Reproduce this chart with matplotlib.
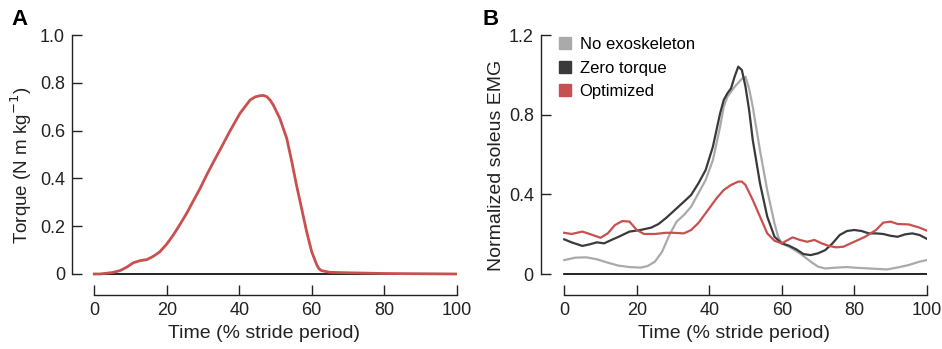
import numpy as np
import matplotlib
matplotlib.use('Agg')
import matplotlib.pyplot as plt

plt.rcParams['font.family'] = ['Liberation Sans', 'DejaVu Sans']

# Panel A: exoskeleton torque
torque_time = [0, 1.6, 5, 7.1, 8.9, 10.8, 12.7, 14.5, 16.3, 18.1, 20, 21.8, 23.6,
               25.5, 27.3, 29.2, 31, 32.8, 35, 37.4, 40.2, 43.0, 44.4, 45.7, 46.7,
               47.6, 48.5, 49.4, 51.2, 53.1, 54.5, 55.8, 57.2, 58.6, 60.0, 61.4,
               62.0, 62.7, 65, 70, 80, 100]
torque_vals = [0, 0, 0.006, 0.014, 0.028, 0.047, 0.056, 0.06, 0.074, 0.093, 0.125,
               0.163, 0.206, 0.254, 0.305, 0.358, 0.414, 0.466, 0.528, 0.597, 0.672,
               0.728, 0.741, 0.746, 0.747, 0.742, 0.728, 0.707, 0.651, 0.568, 0.47,
               0.372, 0.275, 0.177, 0.093, 0.038, 0.022, 0.014, 0.007, 0.005,
               0.002, 0.0]

# Panel B: soleus EMG
no_exo_time = [0, 3, 6, 9, 12, 15, 18, 21, 23, 25, 27, 29, 31, 33, 35, 37, 39, 41,
               43, 44, 45, 47, 49, 50, 51, 52, 54, 56, 58, 59, 60, 62, 65, 68, 70,
               72, 75, 78, 80, 85, 89, 92, 95, 98, 100]
no_exo_vals = [0.07, 0.082, 0.084, 0.074, 0.057, 0.042, 0.035, 0.032, 0.04, 0.062,
               0.112, 0.196, 0.263, 0.296, 0.338, 0.405, 0.472, 0.572, 0.74, 0.84,
               0.89, 0.94, 0.98, 0.99, 0.93, 0.84, 0.62, 0.42, 0.254, 0.187, 0.154,
               0.137, 0.104, 0.062, 0.037, 0.028, 0.032, 0.035, 0.032, 0.027, 0.023,
               0.033, 0.045, 0.062, 0.07]

zero_time = [0, 2, 5, 7, 9, 11, 13, 15, 18, 21, 24, 26, 28, 30, 33, 35, 37, 39, 41,
             43, 44, 45, 46, 47, 48, 49, 50, 51, 52, 54, 56, 58, 60, 62, 64, 66, 68,
             70, 72, 74, 76, 78, 80, 82, 84, 86, 88, 90, 92, 94, 96, 98, 100]
zero_vals = [0.174, 0.159, 0.141, 0.149, 0.159, 0.154, 0.171, 0.187, 0.213, 0.221,
             0.233, 0.251, 0.28, 0.313, 0.363, 0.397, 0.455, 0.522, 0.639, 0.807,
             0.874, 0.907, 0.932, 0.991, 1.041, 1.024, 0.94, 0.823, 0.673, 0.455,
             0.288, 0.187, 0.154, 0.142, 0.124, 0.10, 0.095, 0.104, 0.12, 0.154,
             0.196, 0.216, 0.221, 0.216, 0.204, 0.204, 0.201, 0.192, 0.187, 0.199,
             0.204, 0.196, 0.177]

opt_time = [0, 2, 5, 7, 10, 12, 14, 16, 18, 20, 22, 25, 28, 30, 33, 35, 37, 40, 42,
            44, 46, 48, 49, 50, 52, 54, 56, 58, 60, 62, 63, 65, 67, 69, 71, 73, 75,
            77, 80, 83, 86, 88, 90, 92, 95, 98, 100]
opt_vals = [0.207, 0.201, 0.213, 0.201, 0.182, 0.204, 0.246, 0.266, 0.263, 0.221,
            0.201, 0.201, 0.207, 0.207, 0.204, 0.221, 0.256, 0.33, 0.38, 0.422,
            0.447, 0.464, 0.464, 0.447, 0.372, 0.288, 0.204, 0.167, 0.154, 0.174,
            0.184, 0.171, 0.162, 0.171, 0.154, 0.141, 0.134, 0.137, 0.162, 0.187,
            0.221, 0.258, 0.263, 0.251, 0.249, 0.233, 0.218]

red = '#c8504f'
gray = '#aaaaaa'
dark = '#3a3a3a'
text_col = '#222222'


def style_axes(ax, ymax, yticks, yticklabels, ylow, xlow):
    ax.set_xlim(xlow, 100)
    ax.set_ylim(ylow, ymax)
    for side in ['top', 'right']:
        ax.spines[side].set_visible(False)
    ax.spines['left'].set_bounds(0, ymax)
    ax.spines['bottom'].set_bounds(0, 100)
    for side in ['left', 'bottom']:
        ax.spines[side].set_linewidth(1.0)
        ax.spines[side].set_color('#222222')
    ax.tick_params(direction='in', length=7, width=1.0, colors='#222222',
                   labelsize=13, labelcolor=text_col, pad=5)
    ax.set_xticks([0, 20, 40, 60, 80, 100])
    ax.set_yticks(yticks)
    ax.set_yticklabels(yticklabels)
    ax.plot([0, 100], [0, 0], color='black', lw=1.2, zorder=1)
    ax.set_xlabel('Time (% stride period)', fontsize=14, color=text_col, labelpad=4)


fig = plt.figure(figsize=(9.42, 3.49), dpi=100)

axA = fig.add_axes([0.0764, 0.1547, 0.4084, 0.745])
style_axes(axA, 1.0, [0, 0.2, 0.4, 0.6, 0.8, 1.0],
           ['0', '0.2', '0.4', '0.6', '0.8', '1.0'], -0.088, -6.15)
axA.plot(torque_time, torque_vals, color=red, lw=2.0, zorder=3,
         solid_joinstyle='round')
axA.set_ylabel('Torque (N m kg$^{-1}$)', fontsize=13.5, color=text_col, labelpad=4)

axB = fig.add_axes([0.574, 0.1547, 0.4098, 0.745])
style_axes(axB, 1.2, [0, 0.4, 0.8, 1.2], ['0', '0.4', '0.8', '1.2'], -0.1054, -6.5)
axB.plot(no_exo_time, no_exo_vals, color=gray, lw=1.6, label='No exoskeleton', zorder=2)
axB.plot(zero_time, zero_vals, color=dark, lw=1.6, label='Zero torque', zorder=3)
axB.plot(opt_time, opt_vals, color=red, lw=1.6, label='Optimized', zorder=4)
axB.set_ylabel('Normalized soleus EMG', fontsize=14, color=text_col, labelpad=3)

handles = [plt.Line2D([], [], marker='s', ls='', color=c, markersize=9)
           for c in [gray, dark, red]]
axB.legend(handles, ['No exoskeleton', 'Zero torque', 'Optimized'],
           loc='upper left', bbox_to_anchor=(0.025, 1.017), frameon=False,
           fontsize=12, handletextpad=0.35, labelspacing=0.5, handlelength=1.0,
           borderaxespad=0)

fig.text(0.012, 0.975, 'A', fontsize=16, fontweight='bold', va='top')
fig.text(0.512, 0.975, 'B', fontsize=16, fontweight='bold', va='top')

fig.savefig('out.png', dpi=100)
